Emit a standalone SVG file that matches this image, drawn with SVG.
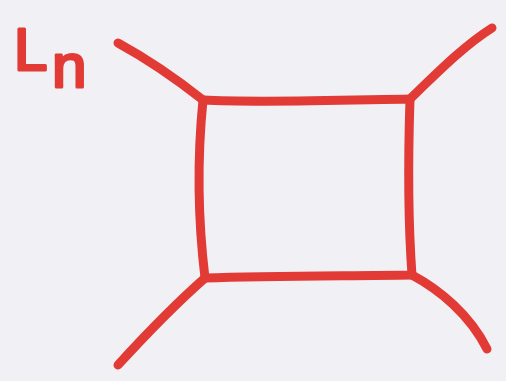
<svg xmlns="http://www.w3.org/2000/svg" width="506" height="381" viewBox="0 0 506 381">
<style>
.ln{fill:none;stroke:#e23b36;stroke-width:9;stroke-linecap:round;stroke-linejoin:round}
.lbl{font-family:"Liberation Sans",Arial,sans-serif;fill:#e23b36;stroke:#e23b36;stroke-width:3;stroke-linejoin:round}
</style>
<rect width="506" height="381" fill="#f1f1f5"/>
<g id="label"><text class="lbl" x="14" y="70" font-size="60">L<tspan x="52" y="87" font-size="62">n</tspan></text></g>
<g id="connectors">
<path class="ln" d="M118,43 C140,55 165,70 203,100"/>
<path class="ln" d="M410,99 C440,70 465,45 492,28"/>
<path class="ln" d="M205,278 C180,300 150,330 118,365"/>
<path class="ln" d="M412,275 C440,290 470,315 487,349"/>
</g>
<g id="square"><path class="ln" d="M203,100 C260,103 350,100 410,99 C408,160 408,220 412,275 C340,276 270,276 205,278 C198,220 197,160 203,100 Z"/></g>
</svg>
